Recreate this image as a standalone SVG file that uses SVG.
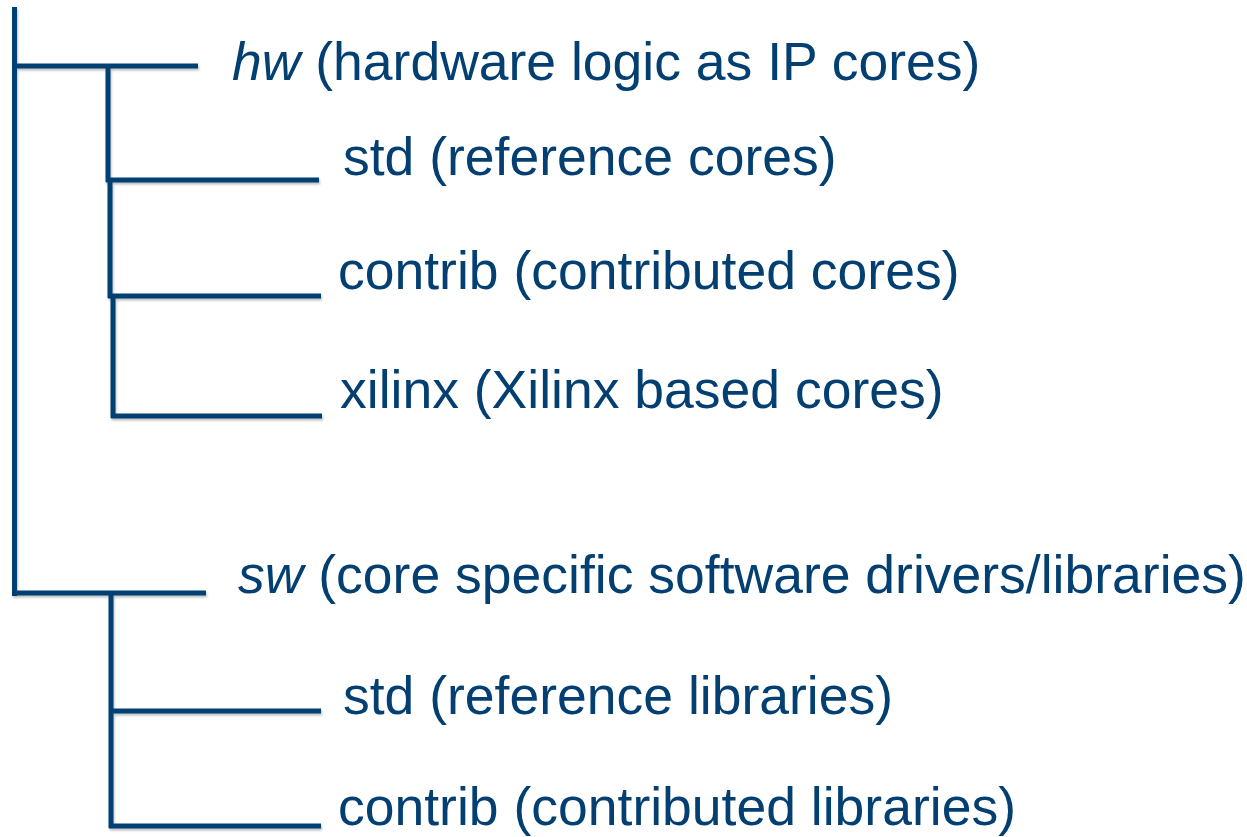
<svg xmlns="http://www.w3.org/2000/svg" width="1247" height="837" viewBox="0 0 1247 837">
<style>
.ln{stroke:#043F72;stroke-width:5;fill:none;stroke-linecap:butt}
.t{font-family:"Liberation Sans",Arial,sans-serif;font-size:53.5px;fill:#043F72}
.i{font-style:italic}
</style>
<defs>
<filter id="sh" x="-5%" y="-5%" width="110%" height="110%">
<feDropShadow dx="1" dy="2" stdDeviation="1" flood-color="#000" flood-opacity="0.25"/>
</filter>
</defs>
<rect width="1247" height="837" fill="#fff"/>
<g id="connectors" class="ln" filter="url(#sh)">
<path d="M14.5 7 V596 M12 66 H198 M12 593 H206"/>
<path d="M108 66 V182 M106 180 H319"/>
<path d="M110 180 V298 M108 296 H321"/>
<path d="M113 296 V418 M111 416 H322"/>
<path d="M111 593 V828 M109 711 H321 M109 826 H321"/>
</g>
<g id="hw"><text class="t" x="232" y="80"><tspan class="i">hw</tspan> (hardware logic as IP cores)</text></g>
<g id="hw-std"><text class="t" x="343" y="175">std (reference cores)</text></g>
<g id="hw-contrib"><text class="t" x="338" y="289">contrib (contributed cores)</text></g>
<g id="hw-xilinx"><text class="t" x="340" y="408">xilinx (Xilinx based cores)</text></g>
<g id="sw"><text class="t" x="238" y="593"><tspan class="i">sw</tspan> (core specific software drivers/libraries)</text></g>
<g id="sw-std"><text class="t" x="343" y="714">std (reference libraries)</text></g>
<g id="sw-contrib"><text class="t" x="338" y="825">contrib (contributed libraries)</text></g>
</svg>
